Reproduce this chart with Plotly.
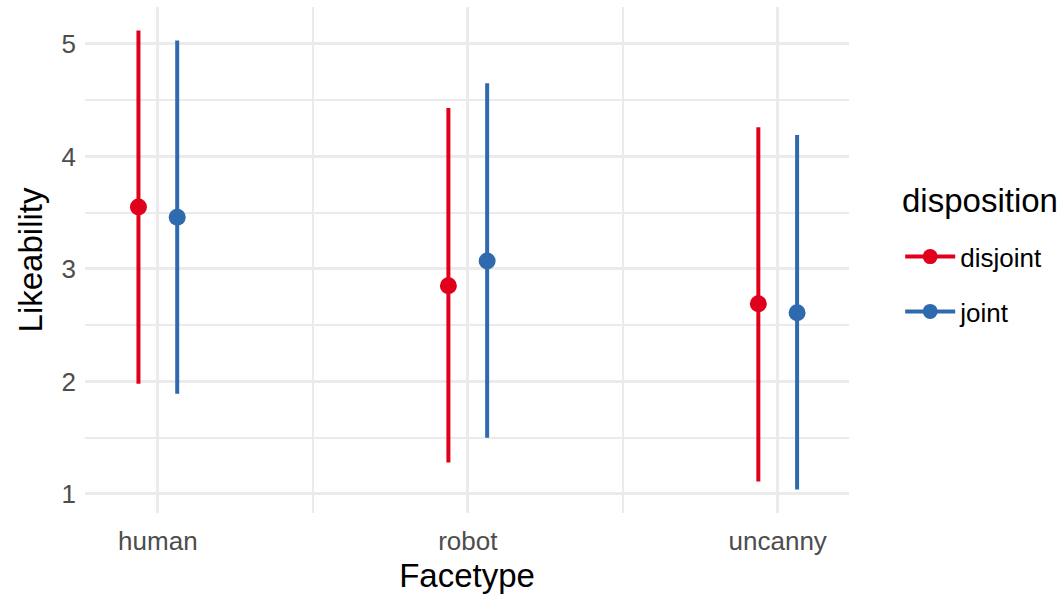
import plotly.graph_objects as go

# Likeability by face type and disposition: mean with lower/upper interval
facetypes = ["human", "robot", "uncanny"]
dispositions = ["disjoint", "joint"]

mean_disjoint = [3.55, 2.85, 2.69]
low_disjoint = [1.98, 1.28, 1.11]
high_disjoint = [5.12, 4.43, 4.26]

mean_joint = [3.46, 3.07, 2.61]
low_joint = [1.89, 1.50, 1.04]
high_joint = [5.03, 4.65, 4.19]

colors = {"disjoint": "#E0001B", "joint": "#306AAE"}
series = {
    "disjoint": (mean_disjoint, low_disjoint, high_disjoint),
    "joint": (mean_joint, low_joint, high_joint),
}

FONT = "Liberation Sans, Arial, sans-serif"
dodge = 0.125  # half of the dodge width

fig = go.Figure()
for k, name in enumerate(dispositions):
    mean, low, high = series[name]
    offset = -dodge / 2 if k == 0 else dodge / 2
    xs = [i + 1 + offset for i in range(len(facetypes))]
    fig.add_trace(go.Scatter(
        x=xs, y=mean, mode="markers",
        marker=dict(color=colors[name], size=17),
        error_y=dict(
            type="data", symmetric=False,
            array=[h - m for h, m in zip(high, mean)],
            arrayminus=[m - l for m, l in zip(mean, low)],
            color=colors[name], thickness=4, width=0,
        ),
        showlegend=False, hoverinfo="skip",
    ))
    # legend key: line through a dot
    fig.add_trace(go.Scatter(
        x=[None], y=[None], mode="lines+markers", name=name,
        line=dict(color=colors[name], width=4),
        marker=dict(color=colors[name], size=15),
        legendgroup=name, showlegend=True,
    ))

grid = "#EBEBEB"
fig.update_layout(
    width=1063, height=598,
    margin=dict(l=85, r=214, t=7, b=85),
    paper_bgcolor="white", plot_bgcolor="white",
    font=dict(family=FONT, color="#4D4D4D", size=26),
    xaxis=dict(
        range=[0.765, 3.23],
        tickmode="array", tickvals=[1, 2, 3], ticktext=facetypes,
        showgrid=True, gridcolor=grid, gridwidth=2.5,
        minor=dict(tick0=0.5, dtick=1, showgrid=True, gridcolor=grid, gridwidth=1.6),
        zeroline=False, showline=False, ticks="",
        ticklabelstandoff=10,
        tickfont=dict(size=26, color="#4D4D4D"),
        title=dict(text="Facetype", font=dict(size=33, color="black"), standoff=8),
    ),
    yaxis=dict(
        range=[0.831, 5.328],
        tickmode="array", tickvals=[1, 2, 3, 4, 5],
        showgrid=True, gridcolor=grid, gridwidth=2.5,
        minor=dict(tick0=0.5, dtick=0.5, showgrid=True, gridcolor=grid, gridwidth=1.6),
        zeroline=False, showline=False, ticks="",
        ticklabelstandoff=8,
        tickfont=dict(size=26, color="#4D4D4D"),
        title=dict(text="Likeability", font=dict(size=33, color="black"), standoff=8),
    ),
    legend=dict(
        font=dict(size=26, color="black"),
        x=1.067, xanchor="left", y=0.553, yanchor="top",
        tracegroupgap=18, itemwidth=50,
        bgcolor="rgba(0,0,0,0)",
    ),
    annotations=[dict(
        text="disposition", xref="paper", yref="paper",
        x=1.067, y=0.617, xanchor="left", yanchor="middle", showarrow=False,
        font=dict(size=33, color="black", family=FONT),
    )],
)

fig.write_html("out.html")
